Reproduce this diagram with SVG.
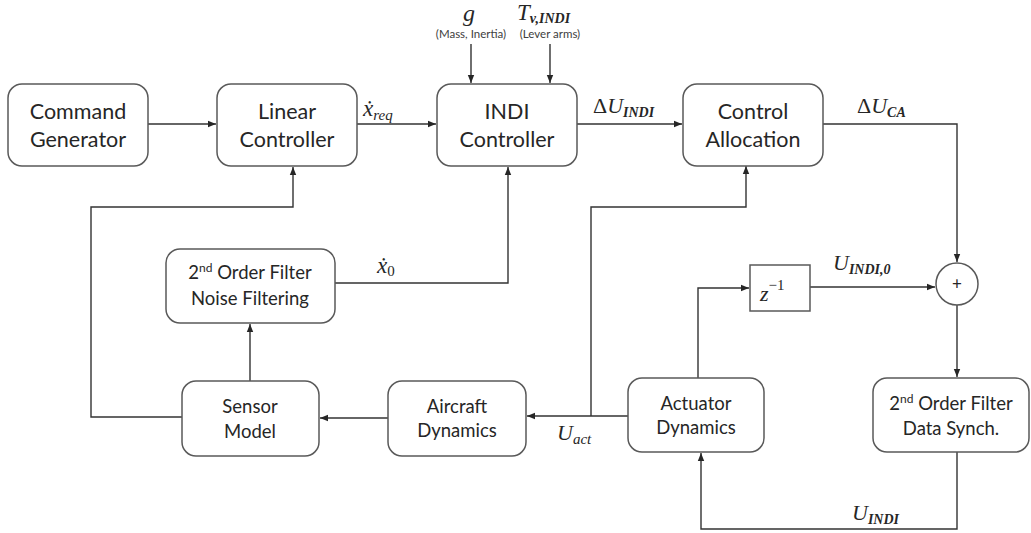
<svg xmlns="http://www.w3.org/2000/svg" width="1031" height="533" viewBox="0 0 1031 533">
<defs>
<marker id="ah" viewBox="0 0 10 10" refX="10" refY="5" markerWidth="8" markerHeight="8" markerUnits="userSpaceOnUse" orient="auto">
<path d="M0,1 L10,5 L0,9 z" fill="#262626"/>
</marker>
</defs>
<style>
.box{fill:#fff;stroke:#595959;stroke-width:1.5}
.sq{fill:#fff;stroke:#595959;stroke-width:1.5}
.lbl{font-family:Lato,"Liberation Sans",sans-serif;fill:#262626;text-anchor:middle}
.big{font-size:21.5px}
.sm{font-size:18.5px}
.math{font-family:"Liberation Serif","DejaVu Serif",serif;fill:#262626;font-style:italic}
.note{font-family:Lato,"Liberation Sans",sans-serif;font-size:11.5px;fill:#404040;text-anchor:middle}
.c{fill:none;stroke:#333;stroke-width:1.4}
.a{marker-end:url(#ah)}
</style>
<rect width="1031" height="533" fill="#fff"/>
<g id="connectors">
<path class="c a" d="M148,124 H216"/>
<path class="c a" d="M357,124 H436"/>
<path class="c a" d="M577,124 H682"/>
<path class="c a" d="M823,124 H957 V262"/>
<path class="c a" d="M957,305 V377"/>
<path class="c a" d="M957,452 V529 H701 V453"/>
<path class="c a" d="M698,378 V288 H749"/>
<path class="c a" d="M810,287 H935"/>
<path class="c a" d="M628,416 H527"/>
<path class="c a" d="M591,416 V207 H746 V166"/>
<path class="c a" d="M388,418 H320"/>
<path class="c a" d="M182,417 H91 V207 H293 V167"/>
<path class="c a" d="M250,381 V324"/>
<path class="c a" d="M335,283 H508 V167"/>
<path class="c a" d="M471,44 V83"/>
<path class="c a" d="M550,44 V83"/>
</g>
<g id="command-generator">
<rect class="box" x="8" y="84" width="140" height="82" rx="14"/>
<text class="lbl big" x="78" y="119">Command</text>
<text class="lbl big" x="78" y="147">Generator</text>
</g>
<g id="linear-controller">
<rect class="box" x="217" y="84" width="140" height="82" rx="14"/>
<text class="lbl big" x="287" y="119">Linear</text>
<text class="lbl big" x="287" y="147">Controller</text>
</g>
<g id="indi-controller">
<rect class="box" x="437" y="84" width="140" height="82" rx="14"/>
<text class="lbl big" x="507" y="119">INDI</text>
<text class="lbl big" x="507" y="147">Controller</text>
</g>
<g id="control-allocation">
<rect class="box" x="683" y="84" width="140" height="82" rx="14"/>
<text class="lbl big" x="753" y="119">Control</text>
<text class="lbl big" x="753" y="147">Allocation</text>
</g>
<g id="noise-filter">
<rect class="box" x="166" y="249" width="169" height="74" rx="14"/>
<text class="lbl sm" x="250" y="279">2<tspan font-size="12" dy="-7">nd</tspan><tspan dy="7"> Order Filter</tspan></text>
<text class="lbl sm" x="250" y="305">Noise Filtering</text>
</g>
<g id="sensor-model">
<rect class="box" x="182" y="381" width="137" height="75" rx="14"/>
<text class="lbl sm" x="250" y="413">Sensor</text>
<text class="lbl sm" x="250" y="438">Model</text>
</g>
<g id="aircraft-dynamics">
<rect class="box" x="388" y="381" width="138" height="75" rx="14"/>
<text class="lbl sm" x="457" y="413">Aircraft</text>
<text class="lbl sm" x="457" y="437">Dynamics</text>
</g>
<g id="actuator-dynamics">
<rect class="box" x="628" y="378" width="136" height="74" rx="14"/>
<text class="lbl sm" x="696" y="410">Actuator</text>
<text class="lbl sm" x="696" y="434">Dynamics</text>
</g>
<g id="data-synch-filter">
<rect class="box" x="873" y="378" width="156" height="74" rx="14"/>
<text class="lbl sm" x="951" y="410">2<tspan font-size="12" dy="-7">nd</tspan><tspan dy="7"> Order Filter</tspan></text>
<text class="lbl sm" x="951" y="435">Data Synch.</text>
</g>
<g id="delay">
<rect class="sq" x="750" y="265" width="60" height="46"/>
<text class="math" x="760" y="301" font-size="22">z<tspan font-style="normal" font-size="15" dy="-11">−1</tspan></text>
</g>
<g id="sum">
<circle cx="957" cy="284" r="21" fill="#fff" stroke="#595959" stroke-width="1.5"/>
<text class="lbl" x="957" y="290" font-size="17">+</text>
</g>
<g id="labels">
<text class="math" x="463" y="21" font-size="24">g</text>
<text class="note" x="471" y="38">(Mass, Inertia)</text>
<text class="math" x="517" y="20" font-size="23">T<tspan font-size="14" font-weight="bold" dy="3">v,INDI</tspan></text>
<text class="note" x="550" y="38">(Lever arms)</text>
<text class="math" x="363" y="116" font-size="23">ẋ<tspan font-size="15" dy="4">req</tspan></text>
<text class="math" x="593" y="113" font-size="22"><tspan font-style="normal">Δ</tspan>U<tspan font-size="14" font-weight="bold" dy="4">INDI</tspan></text>
<text class="math" x="857" y="113" font-size="22"><tspan font-style="normal">Δ</tspan>U<tspan font-size="14" font-weight="bold" dy="4">CA</tspan></text>
<text class="math" x="377" y="273" font-size="23">ẋ<tspan font-style="normal" font-size="15" dy="3">0</tspan></text>
<text class="math" x="833" y="270" font-size="22">U<tspan font-size="14" font-weight="bold" dy="4">INDI,0</tspan></text>
<text class="math" x="557" y="440" font-size="22">U<tspan font-size="15" dy="4">act</tspan></text>
<text class="math" x="852" y="520" font-size="22">U<tspan font-size="14" font-weight="bold" dy="4">INDI</tspan></text>
</g>
</svg>
